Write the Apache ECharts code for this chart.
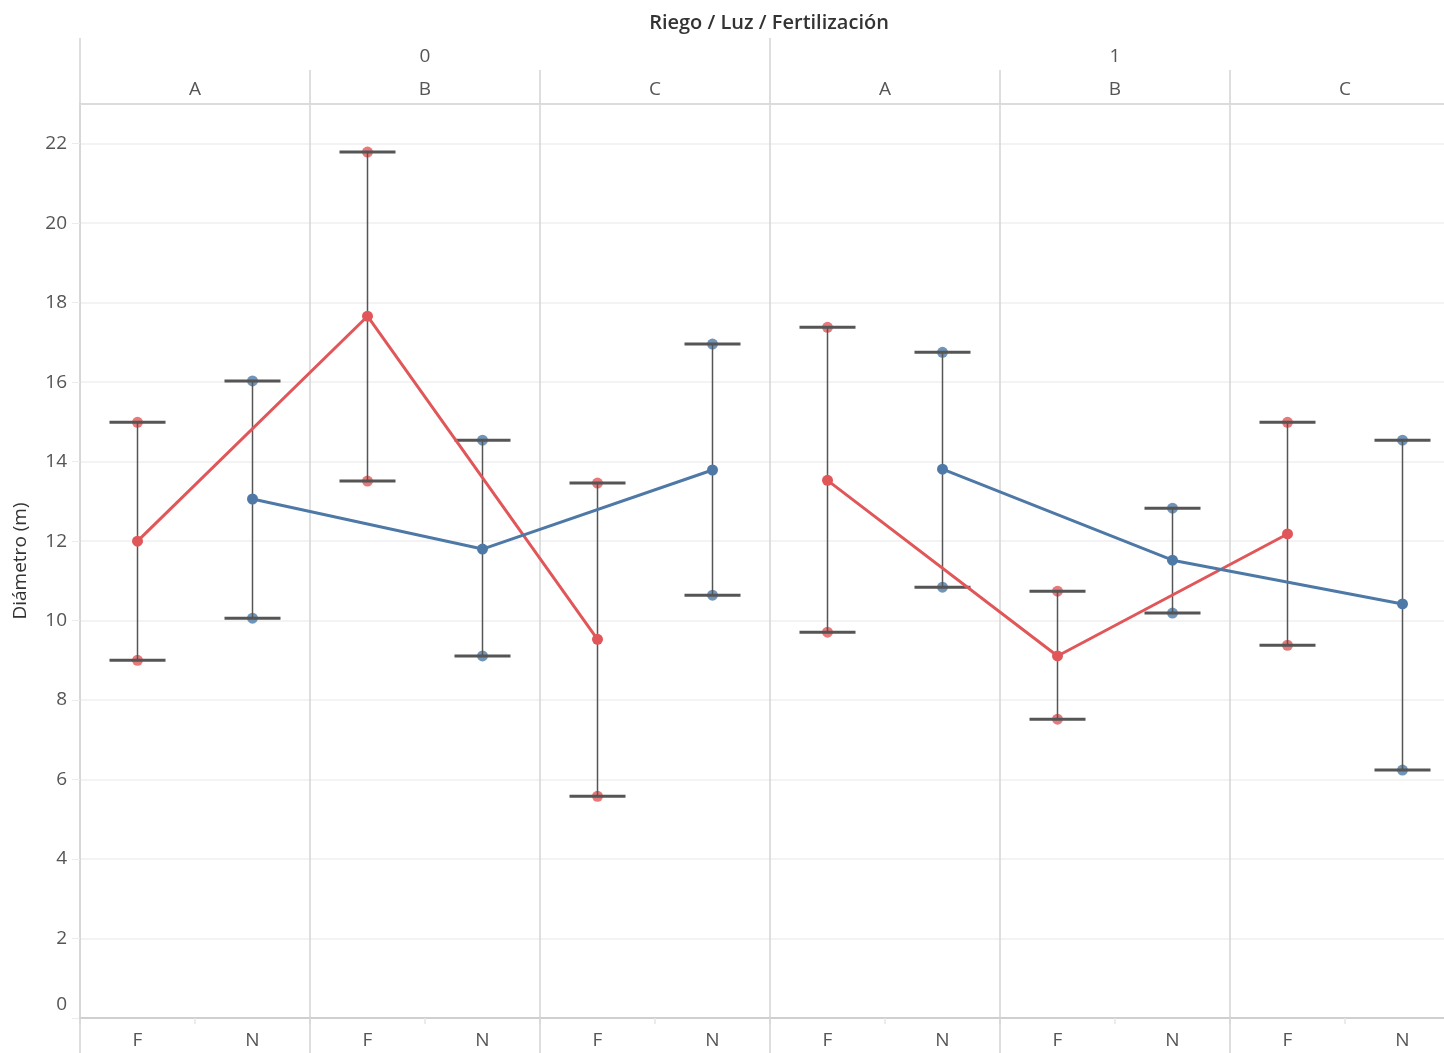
<!DOCTYPE html>
<html><head><meta charset="utf-8">
<script src="https://cdn.jsdelivr.net/npm/echarts@6/dist/echarts.min.js"></script>
<style>html,body{margin:0;padding:0;background:#fff}#c{width:1444px;height:1053px}</style>
</head><body><div id="c"></div>
<script>
// ---- data ----
const riegoLevels = ['0', '1'];
const luzLevels = ['A', 'B', 'C'];
const fertLevels = ['F', 'N'];
// per (Riego, Luz): 0A,0B,0C,1A,1B,1C
const meanF = [12.0, 17.66, 9.53, 13.53, 9.11, 12.18];
const lowF  = [9.0, 13.51, 5.58, 9.71, 7.52, 9.38];
const highF = [14.99, 21.79, 13.46, 17.38, 10.74, 14.99];
const meanN = [13.06, 11.80, 13.79, 13.81, 11.52, 10.42];
const lowN  = [10.06, 9.11, 10.64, 10.84, 10.19, 6.24];
const highN = [16.03, 14.54, 16.96, 16.75, 12.83, 14.54];
const yTicks = [0, 2, 4, 6, 8, 10, 12, 14, 16, 18, 20, 22];

const RED = '#e15759', BLUE = '#4e79a7';
const FONT = 'Open Sans';

// ---- derived categories ----
const fertCats = [], luzCats = [];
riegoLevels.forEach(r => luzLevels.forEach(l => {
  luzCats.push(l);
  fertLevels.forEach(f => fertCats.push(f));
}));

function idx(pi, fi) { return pi * 2 + fi; }

const errF = meanF.map((m, i) => [idx(i, 0), lowF[i], highF[i]]);
const errN = meanN.map((m, i) => [idx(i, 1), lowN[i], highN[i]]);
const endF = [], endN = [];
lowF.forEach((v, i) => { endF.push([idx(i, 0), v]); endF.push([idx(i, 0), highF[i]]); });
lowN.forEach((v, i) => { endN.push([idx(i, 1), v]); endN.push([idx(i, 1), highN[i]]); });

function lineData(means, fi, r) {
  return luzLevels.map((l, li) => {
    const pi = r * 3 + li;
    return [idx(pi, fi), means[pi]];
  });
}

function renderErr(params, api) {
  const x = api.value(0);
  const lo = api.coord([x, api.value(1)]);
  const hi = api.coord([x, api.value(2)]);
  const hw = 28;
  const capStyle = { stroke: '#555', lineWidth: 3 };
  return {
    type: 'group',
    children: [
      { type: 'line', shape: { x1: lo[0], y1: lo[1], x2: hi[0], y2: hi[1] }, style: { stroke: '#555', lineWidth: 1.5 } },
      { type: 'line', shape: { x1: lo[0] - hw, y1: lo[1], x2: lo[0] + hw, y2: lo[1] }, style: capStyle },
      { type: 'line', shape: { x1: hi[0] - hw, y1: hi[1], x2: hi[0] + hw, y2: hi[1] }, style: capStyle }
    ]
  };
}

const series = [
  { type: 'scatter', data: endF, symbolSize: 11, itemStyle: { color: RED }, z: 2, silent: true },
  { type: 'scatter', data: endN, symbolSize: 11, itemStyle: { color: BLUE }, z: 2, silent: true },
  { type: 'custom', data: errF, renderItem: renderErr, encode: { x: 0, y: [1, 2] }, z: 3, silent: true },
  { type: 'custom', data: errN, renderItem: renderErr, encode: { x: 0, y: [1, 2] }, z: 3, silent: true }
];
riegoLevels.forEach((r, ri) => {
  series.push({ type: 'line', data: lineData(meanF, 0, ri), symbol: 'circle', symbolSize: 11,
    lineStyle: { color: RED, width: 3 }, itemStyle: { color: RED }, z: 4, silent: true });
  series.push({ type: 'line', data: lineData(meanN, 1, ri), symbol: 'circle', symbolSize: 11,
    lineStyle: { color: BLUE, width: 3 }, itemStyle: { color: BLUE }, z: 4, silent: true });
});

const sepColor = '#d4d4d4';
const chart = echarts.init(document.getElementById('c'), null, { renderer: 'canvas' });
chart.setOption({
  animation: false,
  textStyle: { fontFamily: FONT },
  graphic: [{
    type: 'text', style: { x: 769, y: 23, text: 'Riego / Luz / Fertilización', textAlign: 'center',
      textVerticalAlign: 'middle', fontFamily: FONT, fontSize: 20, fontWeight: 600, fill: '#333' }
  }],
  grid: { left: 80, right: -16, top: 104, bottom: 35, outerBoundsMode: 'none', containLabel: false },
  xAxis: [
    { type: 'category', data: fertCats, position: 'bottom', boundaryGap: true,
      axisLine: { show: true, lineStyle: { color: '#cfcfcf', width: 2 } },
      axisTick: { show: true, interval: 0, length: 6, lineStyle: { color: '#e6e6e6', width: 1.5 } },
      axisLabel: { interval: 0, margin: 13, color: '#555', fontSize: 19, fontFamily: FONT },
      splitLine: { show: false } },
    { type: 'category', data: luzCats, position: 'bottom', boundaryGap: true,
      axisLine: { show: false },
      axisTick: { show: true, interval: 0, length: 35, lineStyle: { color: sepColor, width: 1.5 } },
      axisLabel: { show: false },
      splitLine: { show: true, interval: 0, lineStyle: { color: sepColor, width: 1.5 } } },
    { type: 'category', data: luzCats, position: 'top', boundaryGap: true,
      axisLine: { show: true, lineStyle: { color: '#dcdcdc', width: 2 } },
      axisTick: { show: true, interval: 0, length: 34, lineStyle: { color: sepColor, width: 1.5 } },
      axisLabel: { interval: 0, margin: 5, color: '#555', fontSize: 19, fontFamily: FONT },
      splitLine: { show: false } },
    { type: 'category', data: riegoLevels, position: 'top', boundaryGap: true,
      axisLine: { show: false },
      axisTick: { show: true, interval: 0, length: 66, lineStyle: { color: sepColor, width: 1.5 } },
      axisLabel: { interval: 0, margin: 38, color: '#555', fontSize: 19, fontFamily: FONT },
      splitLine: { show: false } }
  ],
  yAxis: {
    type: 'value', min: 0, max: 23, interval: 2,
    name: 'Diámetro (m)', nameLocation: 'middle', nameGap: 50, nameRotate: 90,
    nameTextStyle: { color: '#333', fontSize: 19, fontFamily: FONT },
    axisLine: { show: true, lineStyle: { color: '#d4d4d4', width: 1.5 } },
    axisTick: { show: true, length: 8, lineStyle: { color: '#ececec' } },
    axisLabel: { showMaxLabel: false, margin: 13, color: '#555', fontSize: 19, fontFamily: FONT,
      formatter: v => (yTicks.indexOf(v) < 0 ? '' : (v === 0 ? '{z|0}' : String(v))),
      rich: { z: { padding: [0, 0, 26, 0], fontSize: 19, color: '#555', fontFamily: FONT } } },
    splitLine: { show: true, lineStyle: { color: '#efefef', width: 1.5 } }
  },
  series: series
});
</script></body></html>
